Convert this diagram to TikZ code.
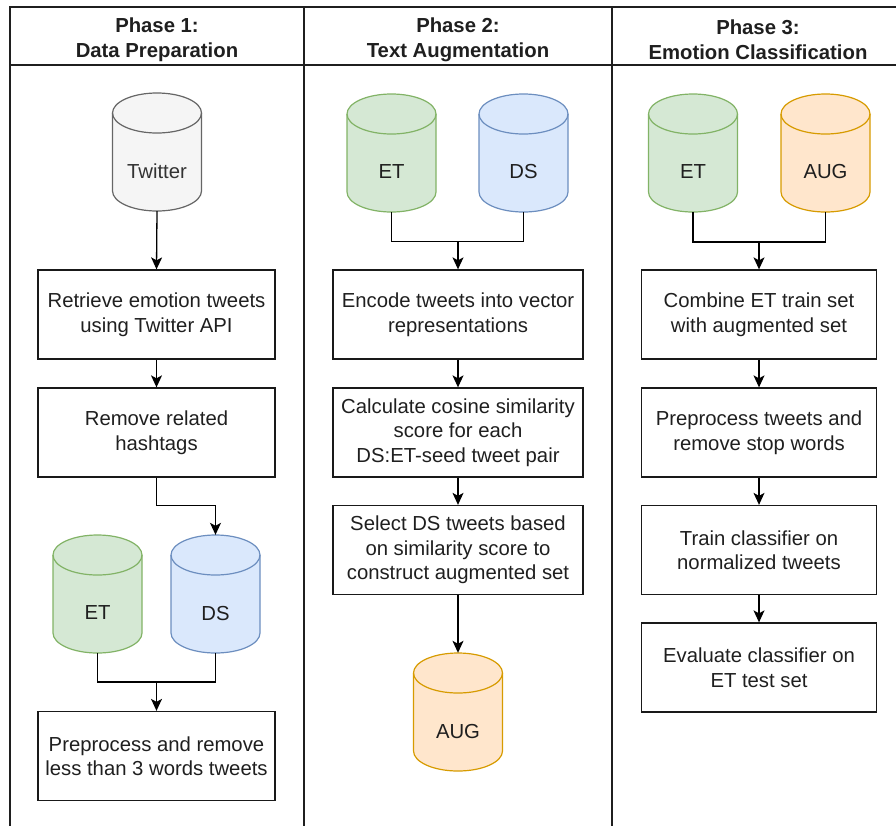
\documentclass[tikz,border=0pt]{standalone}
\usepackage{fontspec}
\setmainfont{Liberation Sans}
\usetikzlibrary{arrows.meta}

\definecolor{lanecol}{HTML}{1F1F1F}
\definecolor{grayfill}{HTML}{F5F5F5}
\definecolor{graydraw}{HTML}{666666}
\definecolor{graytext}{HTML}{333333}
\definecolor{greenfill}{HTML}{D5E8D4}
\definecolor{greendraw}{HTML}{82B366}
\definecolor{bluefill}{HTML}{DAE8FC}
\definecolor{bluedraw}{HTML}{6C8EBF}
\definecolor{orangefill}{HTML}{FFE6CC}
\definecolor{orangedraw}{HTML}{D79B00}

\tikzset{
  lane/.style={draw=lanecol, line width=1.8pt},
  head/.style={font=\bfseries\fontsize{20.3}{25}\selectfont, align=center, text=black!88},
  proc/.style={draw=black!90, line width=1.3pt, minimum height=89pt, inner sep=0pt,
    align=center, text=black!88, font=\fontsize{20.3}{24.5}\selectfont},
  cylarea/.style={rectangle, minimum width=89pt, minimum height=118pt, inner sep=0pt},
  conn/.style={draw=black, line width=1.3pt},
  arr/.style={conn, -{Stealth[length=12pt, width=11pt, inset=3pt]}},
}

% database cylinder: name, centre x, top y (downwards), fill, stroke, text colour, label
\newcommand{\dbcyl}[7]{%
  \path[draw=#5, fill=#4, line width=1.2pt]
    (#2-44.5,-#3-20) -- (#2-44.5,-#3-98)
    arc[start angle=180, end angle=360, x radius=44.5pt, y radius=20pt]
    -- (#2+44.5,-#3-20)
    arc[start angle=0, end angle=180, x radius=44.5pt, y radius=20pt] -- cycle;
  \draw[draw=#5, line width=1.2pt] (#2-44.5,-#3-20)
    arc[start angle=180, end angle=360, x radius=44.5pt, y radius=20pt];
  \node[cylarea, label={[text=#6, font=\fontsize{20.3}{24.5}\selectfont, yshift=-19pt]center:#7}]
    (#1) at (#2,-#3-59) {};%
}

\begin{document}
\begin{tikzpicture}[x=1pt, y=1pt]
\useasboundingbox (0,0) rectangle (896,-825);
\clip (0,0) rectangle (896,-825);

% lanes
\draw[lane] (10,-835) -- (10,-7) -- (910,-7);
\draw[lane] (10,-65) -- (910,-65);
\draw[lane] (304,-7) -- (304,-835);
\draw[lane] (612,-7) -- (612,-835);

\node[head] (h1) at (157,-40) {Phase 1:\\Data Preparation};
\node[head] (h2) at (458,-40) {Phase 2:\\Text Augmentation};
\node[head] (h3) at (758,-40) {Phase 3:\\Emotion Classification};

% Phase 1
\dbcyl{tw}{157}{93}{grayfill}{graydraw}{graytext}{Twitter}
\node[proc, minimum width=237pt] (p1a) at (156.5,-314.5) {Retrieve emotion tweets\\using Twitter API};
\node[proc, minimum width=237pt] (p1b) at (156.5,-432.5) {Remove related\\hashtags};
\dbcyl{et1}{97.5}{535}{greenfill}{greendraw}{black!88}{ET}
\dbcyl{ds1}{215.5}{535}{bluefill}{bluedraw}{black!88}{DS}
\node[proc, minimum width=237pt] (p1c) at (156.5,-756) {Preprocess and remove\\less than 3 words tweets};

\draw[arr] (tw.south) -- (p1a.north);
\draw[arr] (p1a.south) -- (p1b.north);
\draw[arr] (p1b.south) -- ++(0,-28) -| (ds1.north);
\coordinate (p1j) at (156.5,-682);
\draw[conn] (et1.south) |- (p1j) -| (ds1.south);
\draw[arr] (p1j) -- (p1c.north);

% Phase 2
\dbcyl{et2}{391.5}{94}{greenfill}{greendraw}{black!88}{ET}
\dbcyl{ds2}{523.5}{94}{bluefill}{bluedraw}{black!88}{DS}
\node[proc, minimum width=250pt] (p2a) at (458,-314.5) {Encode tweets into vector\\representations};
\node[proc, minimum width=250pt] (p2b) at (458,-432.5) {Calculate cosine similarity\\score for each\\DS:ET-seed tweet pair};
\node[proc, minimum width=250pt] (p2c) at (458,-550) {Select DS tweets based\\on similarity score to\\construct augmented set};
\dbcyl{aug2}{458}{653}{orangefill}{orangedraw}{black!88}{AUG}

\coordinate (p2j) at (458,-241.5);
\draw[conn] (et2.south) |- (p2j) -| (ds2.south);
\draw[arr] (p2j) -- (p2a.north);
\draw[arr] (p2a.south) -- (p2b.north);
\draw[arr] (p2b.south) -- (p2c.north);
\draw[arr] (p2c.south) -- (aug2.north);

% Phase 3
\dbcyl{et3}{693}{94}{greenfill}{greendraw}{black!88}{ET}
\dbcyl{aug3}{825.5}{94}{orangefill}{orangedraw}{black!88}{AUG}
\node[proc, minimum width=235pt] (p3a) at (759,-314.5) {Combine ET train set\\with augmented set};
\node[proc, minimum width=235pt] (p3b) at (759,-432.5) {Preprocess tweets and\\remove stop words};
\node[proc, minimum width=235pt] (p3c) at (759,-550) {Train classifier on\\normalized tweets};
\node[proc, minimum width=235pt] (p3d) at (759,-667.5) {Evaluate classifier on\\ET test set};

\coordinate (p3j) at (759,-242);
\draw[conn] (et3.south) |- (p3j) -| (aug3.south);
\draw[arr] (p3j) -- (p3a.north);
\draw[arr] (p3a.south) -- (p3b.north);
\draw[arr] (p3b.south) -- (p3c.north);
\draw[arr] (p3c.south) -- (p3d.north);
\end{tikzpicture}
\end{document}
